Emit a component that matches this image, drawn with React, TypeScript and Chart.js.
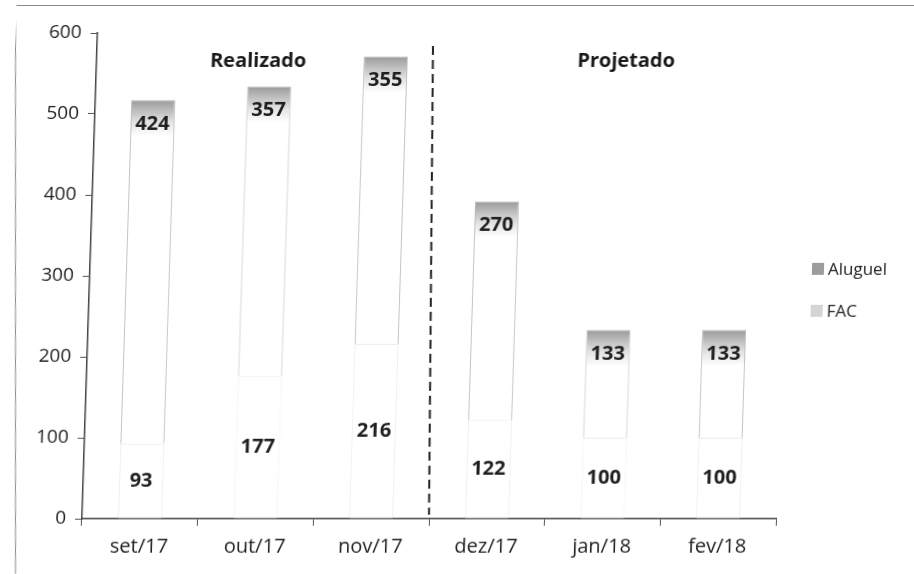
import React, { useEffect, useRef } from "react";
import { Chart, registerables } from "chart.js";

Chart.register(...registerables);

const categories = ["set/17", "out/17", "nov/17", "dez/17", "jan/18", "fev/18"];
const facValues = [93, 177, 216, 122, 100, 100];
const aluguelValues = [424, 357, 355, 270, 133, 133];
const yTicks = [0, 100, 200, 300, 400, 500, 600];
const seriesNames = ["Aluguel", "FAC"];
const sectionTitles = ["Realizado", "Projetado"];

const FONT = "'Open Sans', 'DejaVu Sans', sans-serif";
const SKEW_DEG = 1.83;
const SKEW_K = Math.tan((SKEW_DEG * Math.PI) / 180);
const ORIGIN_Y = 519;

// convert a screen point (unskewed page coords) into canvas coords before skew
const unskewX = (x: number, y: number) => x - SKEW_K * (ORIGIN_Y - y);

const overlay = {
  id: "overlay",
  afterDatasetsDraw(chart: any) {
    const ctx = chart.ctx as CanvasRenderingContext2D;
    const xs = chart.scales.x;
    const ys = chart.scales.y;
    ctx.save();
    // frame (upright on the page)
    ctx.strokeStyle = "#8a8a8a";
    ctx.lineWidth = 1;
    ctx.beginPath();
    ctx.moveTo(unskewX(15.5, 574), 574);
    ctx.lineTo(unskewX(15.5, 5.5), 5.5);
    ctx.lineTo(940, 5.5);
    ctx.stroke();

    // data labels
    ctx.fillStyle = "#1e1e1e";
    ctx.font = `bold 20px ${FONT}`;
    ctx.textAlign = "center";
    ctx.textBaseline = "middle";
    const facMeta = chart.getDatasetMeta(1);
    const aluMeta = chart.getDatasetMeta(0);
    facValues.forEach((v, i) => {
      const el = facMeta.data[i];
      const y = ys.getPixelForValue(v / 2);
      ctx.fillText(String(v), el.x, y);
    });
    aluguelValues.forEach((v, i) => {
      const el = aluMeta.data[i];
      ctx.fillText(String(v), el.x, el.y + 24);
    });

    // dashed separator (nearly upright on the page)
    const sepX = (xs.getPixelForValue(2) + xs.getPixelForValue(3)) / 2;
    const yTop = 46;
    const yBot = ys.getPixelForValue(0) - 4;
    ctx.strokeStyle = "#222";
    ctx.lineWidth = 2;
    ctx.setLineDash([9, 5]);
    ctx.beginPath();
    ctx.moveTo(unskewX(sepX + 4, yTop), yTop);
    ctx.lineTo(unskewX(sepX, yBot), yBot);
    ctx.stroke();
    ctx.setLineDash([]);

    // section titles
    ctx.font = `bold 20px ${FONT}`;
    ctx.fillStyle = "#1a1a1a";
    ctx.fillText(sectionTitles[0], xs.getPixelForValue(1) - 12, 61);
    ctx.fillText(sectionTitles[1], xs.getPixelForValue(4) + 9, 61);

    // legend
    ctx.font = `17px ${FONT}`;
    ctx.textAlign = "left";
    const legendColors = ["#9c9c9c", "#d4d4d4"];
    const legendY = [269, 311];
    seriesNames.forEach((n, i) => {
      ctx.fillStyle = legendColors[i];
      ctx.fillRect(804, legendY[i] - 6, 12, 12);
      ctx.fillStyle = "#222";
      ctx.fillText(n, 820, legendY[i] + 1);
    });
    ctx.restore();
  },
};

export default function App() {
  const ref = useRef<HTMLCanvasElement>(null);
  useEffect(() => {
    if (!ref.current) return;
    const chart = new Chart(ref.current, {
      type: "bar",
      data: {
        labels: categories,
        datasets: [
          {
            label: seriesNames[0],
            data: aluguelValues.map((v, i) => [facValues[i], facValues[i] + v]),
            backgroundColor: (c: any) => {
              const ch = c.chart;
              if (!ch.chartArea || c.dataIndex === undefined) return "#ffffff";
              const i = c.dataIndex;
              const top = ch.scales.y.getPixelForValue(facValues[i] + aluguelValues[i]);
              const g = ch.ctx.createLinearGradient(0, top, 0, top + 36);
              g.addColorStop(0, "#9a9a9a");
              g.addColorStop(0.6, "#e2e2e2");
              g.addColorStop(1, "#ffffff");
              return g;
            },
            borderColor: "#b0b0b0",
            borderWidth: 1,
            borderSkipped: "bottom",
            barPercentage: 0.38,
            categoryPercentage: 1,
            grouped: false,
          } as any,
          {
            label: seriesNames[1],
            data: facValues.map((v) => [0, v]),
            backgroundColor: "#ffffff",
            borderColor: "#ececec",
            borderWidth: 1,
            borderSkipped: "bottom",
            barPercentage: 0.38,
            categoryPercentage: 1,
            grouped: false,
          } as any,
        ],
      },
      options: {
        animation: false,
        responsive: false,
        layout: { padding: { left: 0, right: 138, top: 33, bottom: 0 } },
        plugins: { legend: { display: false }, tooltip: { enabled: false } },
        scales: {
          x: {
            grid: {
              drawOnChartArea: false,
              drawTicks: true,
              tickLength: 7,
              color: "#555",
              offset: true,
            },
            border: { color: "#444", width: 1.5 },
            ticks: {
              color: "#1e1e1e",
              font: { family: FONT, size: 20 },
              padding: 9,
            },
            afterFit: (s: any) => {
              s.height = 55;
            },
          },
          y: {
            min: 0,
            max: 600,
            afterBuildTicks: (s: any) => {
              s.ticks = yTicks.map((v) => ({ value: v }));
            },
            grid: { drawOnChartArea: false, drawTicks: true, tickLength: 7, color: "#555" },
            border: { color: "#444", width: 1.5 },
            ticks: {
              color: "#1e1e1e",
              font: { family: FONT, size: 19 },
              padding: 9,
            },
            afterFit: (s: any) => {
              s.width = 82;
            },
          },
        },
      },
      plugins: [overlay],
    });
    return () => chart.destroy();
  }, []);
  return (
    <div style={{ position: "fixed", left: 0, top: 0, width: 914, height: 574, background: "#fff", overflow: "hidden" }}>
      <canvas
        ref={ref}
        width={914}
        height={574}
        style={{ display: "block", transform: `skewX(-${SKEW_DEG}deg)`, transformOrigin: `0px ${ORIGIN_Y}px` }}
      />
    </div>
  );
}
